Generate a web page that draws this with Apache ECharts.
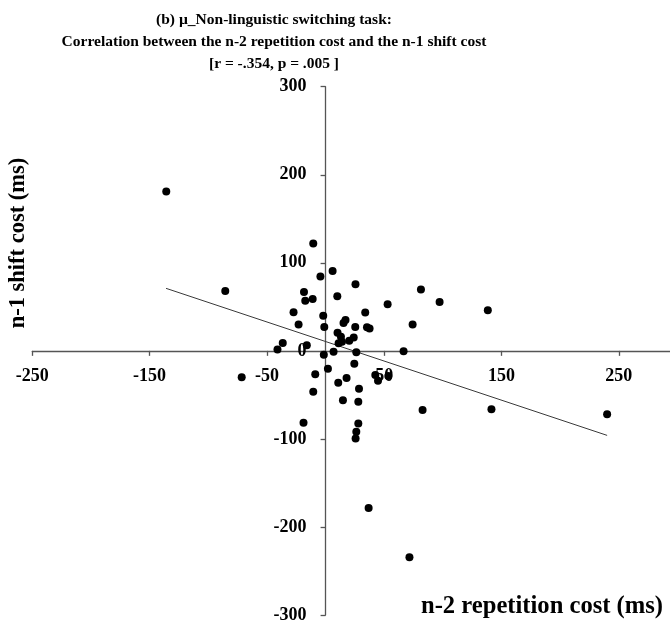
<!DOCTYPE html>
<html>
<head>
<meta charset="utf-8">
<script src="https://cdn.jsdelivr.net/npm/echarts@6/dist/echarts.min.js"></script>
<style>
  html, body { margin: 0; padding: 0; background: #fff; }
  #chart { width: 670px; height: 624px; }
</style>
</head>
<body>
<div id="chart"></div>
<script>
// n-2 repetition cost (x, ms) vs n-1 shift cost (y, ms), one point per participant
const repetitionCost = [
  -135.8, -85.5, -71.5, -36.5, -41, -16, -27.3, -23, -18.4, -17.3,
  -11, -10.5, -4.4, -2, -1.1, -1.5, 2, -8.8, -10.5, -18.8,
  6, 10, 25.5, 33.8, 17, 15.3, 25.3, 35.3, 37.5, 10.2,
  13.1, 14, 24, 20.2, 11.1, 6.8, 26.2, 66.5, 74.2, 52.9,
  81.3, 97.2, 138.3, 24.5, 10.8, 17.9, 42.4, 44.7, 53.5, 28.5,
  14.8, 27.9, 82.7, 141.4, 240, 27.9, 26.2, 25.6, 36.7, 71.5
];
const shiftCost = [
  181, 68, -30, 9, 1.5, 6.5, 43.7, 30, 66.8, 57,
  59, 122, 84.5, 40, 27.2, -4.5, -20.3, -26.7, -46.4, -81.6,
  90.6, 62, 75.5, 43.5, 35, 31.5, 27, 26.7, 25.3, 20.6,
  16, 10.3, 15.3, 11.5, 8.5, -1, -1.7, -0.5, 30, 52.8,
  69.8, 55.4, 46, -14.6, -36.2, -30.9, -27.5, -33.9, -28.6, -43,
  -56.2, -57.8, -67.2, -66.3, -72, -82.4, -91.8, -99.5, -178.5, -234.5
];
// fitted regression line, drawn across the observed x range
const fitX = [-136, 240];
const fitY = [71, -96];

const titleLines = [
  '(b) \u00b5_Non-linguistic switching task:',
  'Correlation between the n-2 repetition cost and the n-1 shift cost',
  '[r = -.354, p = .005 ]'
];
const xAxisTitle = 'n-2 repetition cost (ms)';
const yAxisTitle = 'n-1 shift cost (ms)';

const points = repetitionCost.map((x, i) => [x, shiftCost[i]]);
const fitLine = fitX.map((x, i) => [x, fitY[i]]);

const serif = '"Liberation Serif", "Times New Roman", serif';

// plot area and the pixel position of the origin inside it
const gridLeft = 32.3, gridTop = 86.7, gridWidth = 645.2, gridHeight = 528.3;
const xMin = -250, xMax = 300, yMin = -300, yMax = 300;
const zeroX = gridLeft + (0 - xMin) / (xMax - xMin) * gridWidth;
const zeroY = gridTop + (yMax - 0) / (yMax - yMin) * gridHeight;

const chart = echarts.init(document.getElementById('chart'), null, { renderer: 'canvas' });

const axisStyle = { color: '#555', width: 1.3 };

chart.setOption({
  animation: false,
  backgroundColor: '#fff',
  title: {
    text: titleLines.join('\n'),
    left: 269,
    top: 4,
    textAlign: 'center',
    textStyle: {
      fontFamily: serif, fontWeight: 'bold', fontSize: 15.5, lineHeight: 22, color: '#000'
    }
  },
  grid: {
    left: gridLeft, top: gridTop, width: gridWidth, height: gridHeight,
    containLabel: false, outerBoundsMode: 'none'
  },
  xAxis: {
    type: 'value', position: 'bottom',
    min: xMin, max: xMax, interval: 100,
    // axes cross at the origin
    offset: -(gridTop + gridHeight - zeroY),
    axisLine: { onZero: false, lineStyle: axisStyle },
    axisTick: { show: true, inside: false, length: 5, lineStyle: axisStyle },
    axisLabel: {
      margin: 16, showMaxLabel: false,
      fontFamily: serif, fontWeight: 'bold', fontSize: 18, color: '#000'
    },
    splitLine: { show: false }
  },
  yAxis: {
    type: 'value', position: 'left',
    min: yMin, max: yMax, interval: 100,
    offset: -(zeroX - gridLeft),
    axisLine: { onZero: false, lineStyle: axisStyle },
    axisTick: { show: true, inside: false, length: 5, lineStyle: axisStyle },
    axisLabel: {
      margin: 19,
      fontFamily: serif, fontWeight: 'bold', fontSize: 18, color: '#000'
    },
    splitLine: { show: false }
  },
  graphic: [
    {
      type: 'text', left: 421, top: 594,
      style: { text: xAxisTitle, font: 'bold 24.6px ' + serif, fill: '#000' }
    },
    {
      type: 'text', x: 18, y: 243, rotation: Math.PI / 2,
      style: {
        text: yAxisTitle, font: 'bold 22.5px ' + serif, fill: '#000',
        align: 'center', verticalAlign: 'middle'
      }
    }
  ],
  series: [
    {
      type: 'line', data: fitLine, symbol: 'none',
      lineStyle: { color: '#3a3a3a', width: 1 }, z: 2
    },
    {
      type: 'scatter', data: points, symbol: 'circle', symbolSize: 8,
      itemStyle: { color: '#000', opacity: 1 }, z: 3
    }
  ]
});
</script>
</body>
</html>
